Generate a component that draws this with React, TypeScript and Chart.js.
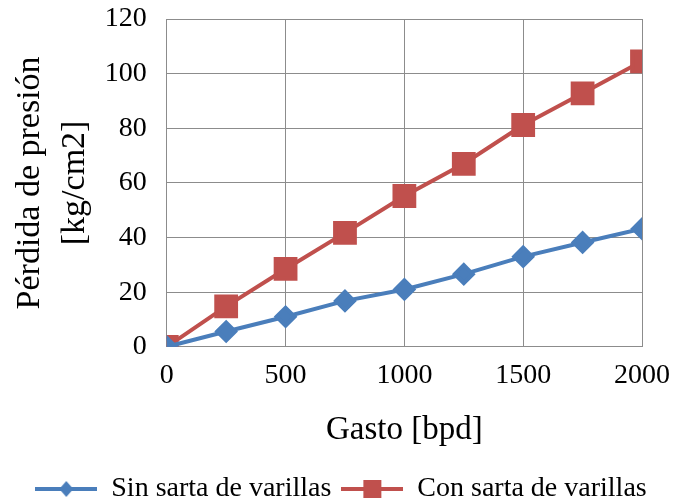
import React, { useEffect, useRef } from "react";
import { Chart, registerables } from "chart.js";
Chart.register(...registerables);

const gasto = [0, 250, 500, 750, 1000, 1250, 1500, 1750, 2000];
const sinSarta = [0, 5.6, 11, 16.8, 21, 26.6, 33, 38.2, 43.2];
const conSarta = [0, 14.8, 28.5, 41.7, 55.2, 67, 81.2, 92.8, 104.5];
const seriesNames = ["Sin sarta de varillas", "Con sarta de varillas"];
const xTitle = "Gasto [bpd]";
const yTitle = ["Pérdida de presión", "[kg/cm2]"];

const BLUE = "#4a7ebb";
const RED = "#c0504d";
const FONT = "'Liberation Serif', 'Times New Roman', serif";

function legendIcon(color: string, shape: "diamond" | "square") {
  const c = document.createElement("canvas");
  c.width = 62;
  c.height = 18;
  const ctx = c.getContext("2d")!;
  ctx.strokeStyle = color;
  ctx.lineWidth = 4;
  ctx.beginPath();
  ctx.moveTo(0, 9);
  ctx.lineTo(62, 9);
  ctx.stroke();
  ctx.fillStyle = color;
  if (shape === "square") {
    ctx.fillRect(22, 0, 18, 18);
  } else {
    ctx.beginPath();
    ctx.moveTo(31, 1);
    ctx.lineTo(38, 9);
    ctx.lineTo(31, 17);
    ctx.lineTo(24, 9);
    ctx.closePath();
    ctx.fill();
  }
  return c;
}

export default function App() {
  const ref = useRef<HTMLCanvasElement>(null);
  useEffect(() => {
    document.body.style.margin = "0";
    const icons = [legendIcon(BLUE, "diamond"), legendIcon(RED, "square")];
    const chart = new Chart(ref.current!, {
      type: "line",
      data: {
        datasets: [
          {
            label: seriesNames[0],
            data: gasto.map((x, i) => ({ x, y: sinSarta[i] })),
            borderColor: BLUE,
            backgroundColor: BLUE,
            borderWidth: 4,
            pointStyle: "rectRot",
            pointRadius: 9,
            pointHoverRadius: 9,
          },
          {
            label: seriesNames[1],
            data: gasto.map((x, i) => ({ x, y: conSarta[i] })),
            borderColor: RED,
            backgroundColor: RED,
            borderWidth: 4,
            pointStyle: "rect",
            pointRadius: 14,
            pointHoverRadius: 14,
          },
        ],
      },
      options: {
        animation: false,
        responsive: false,
        maintainAspectRatio: false,
        layout: { padding: { left: 8, right: 0, top: 0, bottom: -12 } },
        scales: {
          x: {
            type: "linear",
            min: 0,
            max: 2000,
            afterFit: (s: any) => {
              s.paddingRight = 32;
            },
            ticks: {
              stepSize: 500,
              color: "#000",
              font: { family: FONT, size: 28 },
              padding: 12,
              callback: (v: any) => String(v),
            },
            grid: { color: "#8c8c8c", lineWidth: 1, drawTicks: false },
            border: { color: "#8c8c8c" },
            title: {
              display: true,
              text: xTitle,
              color: "#000",
              font: { family: FONT, size: 33 },
              padding: { top: 6, bottom: 15 },
            },
          },
          y: {
            min: 0,
            max: 120,
            afterFit: (s: any) => {
              s.paddingTop = 19;
            },
            ticks: {
              stepSize: 20,
              color: "#000",
              font: { family: FONT, size: 28 },
              padding: 20,
              callback: (v: any) => String(v),
            },
            grid: { color: "#8c8c8c", lineWidth: 1, drawTicks: false },
            border: { color: "#8c8c8c" },
            title: {
              display: true,
              text: yTitle,
              color: "#000",
              font: { family: FONT, size: 34, lineHeight: 1.32 },
              padding: { top: 0, bottom: -13 },
            },
          },
        },
        plugins: {
          legend: {
            position: "bottom",
            labels: {
              usePointStyle: true,
              pointStyleWidth: 62,
              boxHeight: 18,
              color: "#000",
              font: { family: FONT, size: 28 },
              padding: 10,
              generateLabels: (ch: any) =>
                ch.data.datasets.map((d: any, i: number) => ({
                  text: d.label,
                  pointStyle: icons[i],
                  datasetIndex: i,
                  fontColor: "#000",
                  lineWidth: 0,
                  hidden: false,
                })),
            },
          },
          tooltip: { enabled: false },
        },
      },
    });
    return () => chart.destroy();
  }, []);
  return (
    <div style={{ position: "absolute", left: 0, top: 0, width: 674, height: 501, background: "#fff" }}>
      <canvas ref={ref} width={674} height={501} />
    </div>
  );
}
